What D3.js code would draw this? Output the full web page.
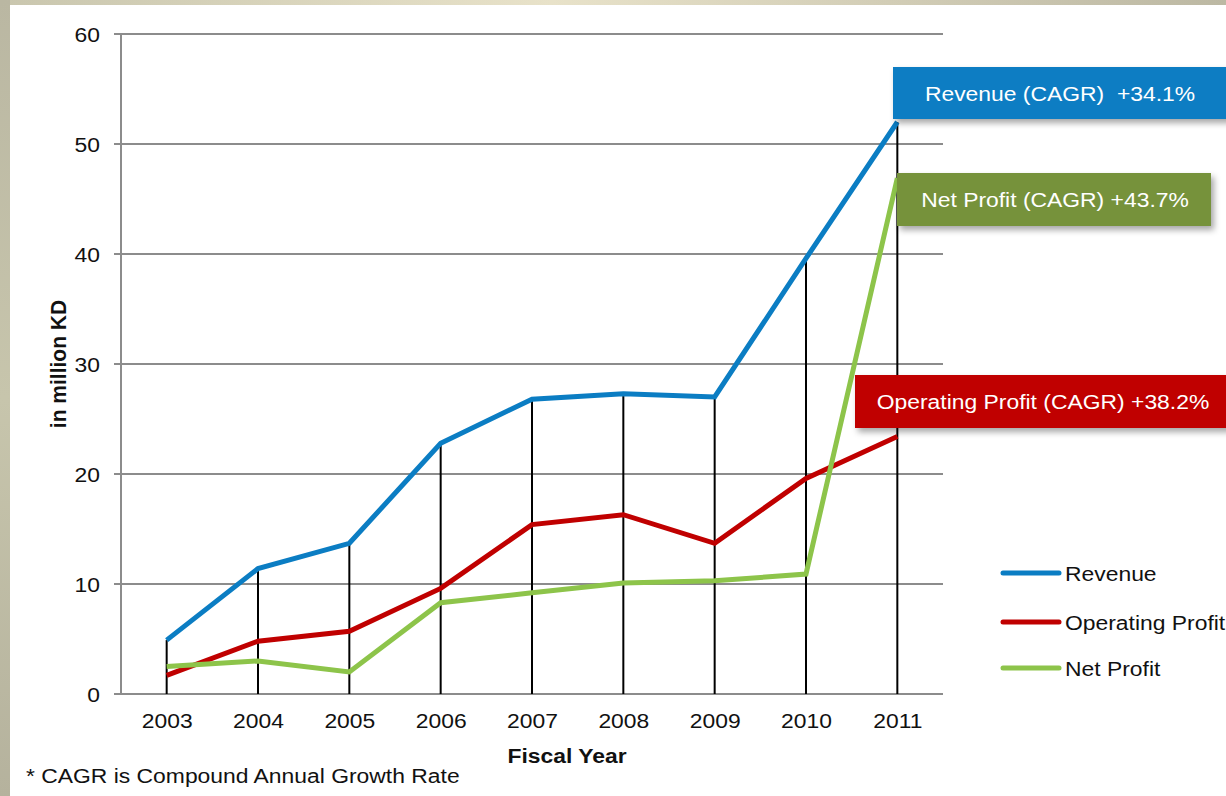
<!DOCTYPE html>
<html>
<head>
<meta charset="utf-8">
<script src="https://cdn.jsdelivr.net/npm/d3@7"></script>
<style>
  html, body { margin: 0; padding: 0; background: #fff; }
  svg { display: block; font-family: "Liberation Sans", Arial, sans-serif; }
</style>
</head>
<body>
<svg id="chart" width="1226" height="796"></svg>
<script>
// Fiscal years and series (million KD)
const years = ["2003", "2004", "2005", "2006", "2007", "2008", "2009", "2010", "2011"];
const revenue = [4.9, 11.4, 13.7, 22.8, 26.8, 27.3, 27.0, 39.6, 52.0];
const operatingProfit = [1.7, 4.8, 5.7, 9.6, 15.4, 16.3, 13.7, 19.6, 23.4];
const netProfit = [2.5, 3.0, 2.0, 8.3, 9.2, 10.1, 10.3, 10.9, 46.9];
const yTicks = [0, 10, 20, 30, 40, 50, 60];

const seriesNames = ["Revenue", "Operating Profit", "Net Profit"];
const seriesColors = ["#0B7DC3", "#C00000", "#8DC44A"];
const cagrLabels = ["Revenue (CAGR)  +34.1%", "Net Profit (CAGR) +43.7%", "Operating Profit (CAGR) +38.2%"];

// The slide's text is slightly widened horizontally
const FS = 21;
const SX = 1.09;

const svg = d3.select("#chart");
const defs = svg.append("defs");

// Page frame strips
const topGrad = defs.append("linearGradient").attr("id", "topStrip");
topGrad.append("stop").attr("offset", "0%").attr("stop-color", "#C9C6AE");
topGrad.append("stop").attr("offset", "45%").attr("stop-color", "#E8E2C9");
topGrad.append("stop").attr("offset", "100%").attr("stop-color", "#BCB8A3");
const leftGrad = defs.append("linearGradient").attr("id", "leftStrip")
  .attr("x1", 0).attr("y1", 0).attr("x2", 0).attr("y2", 1);
leftGrad.append("stop").attr("offset", "0%").attr("stop-color", "#BAB7A2");
leftGrad.append("stop").attr("offset", "50%").attr("stop-color", "#C7C5AC");
leftGrad.append("stop").attr("offset", "100%").attr("stop-color", "#B5B29D");

const shadow = defs.append("filter").attr("id", "boxShadow")
  .attr("x", "-10%").attr("y", "-20%").attr("width", "130%").attr("height", "160%");
shadow.append("feDropShadow").attr("dx", 3).attr("dy", 4).attr("stdDeviation", 3)
  .attr("flood-color", "#000").attr("flood-opacity", 0.35);

svg.append("rect").attr("x", 0).attr("y", 0).attr("width", 1226).attr("height", 5)
  .attr("fill", "url(#topStrip)");
svg.append("rect").attr("x", 0).attr("y", 0).attr("width", 10).attr("height", 796)
  .attr("fill", "url(#leftStrip)");

// Place a widened text at (x, y)
function wideText(parent, x, y, str) {
  return parent.append("text")
    .attr("transform", `translate(${x},${y}) scale(${SX},1)`)
    .attr("font-size", FS).attr("fill", "#111")
    .text(str);
}

// Scales
const x = d3.scalePoint().domain(years).range([121, 943]).padding(0.5);
const y = d3.scaleLinear().domain([0, 60]).range([694, 34]);

// Gridlines
svg.append("g").selectAll("line").data(yTicks).join("line")
  .attr("x1", 114).attr("x2", 943)
  .attr("y1", d => y(d)).attr("y2", d => y(d))
  .attr("stroke", "#8C8C8C").attr("stroke-width", 2);

// Y axis
const yAxis = d3.axisLeft(y).tickValues(yTicks).tickSize(0).tickPadding(0);
const gy = svg.append("g").attr("transform", "translate(121,0)").call(yAxis);
gy.select(".domain").remove();
gy.selectAll("text")
  .attr("x", -21 / SX).attr("dy", "0.36em")
  .attr("transform", `scale(${SX},1)`)
  .attr("font-size", FS).attr("fill", "#111").attr("font-family", "Liberation Sans, Arial, sans-serif");
svg.append("line").attr("x1", 121).attr("x2", 121).attr("y1", y(60)).attr("y2", y(0) + 1)
  .attr("stroke", "#8C8C8C").attr("stroke-width", 2);

// X axis labels
const xAxis = d3.axisBottom(x).tickSize(0).tickPadding(0);
const gx = svg.append("g").attr("transform", `translate(0,${y(0)})`).call(xAxis);
gx.select(".domain").remove();
gx.selectAll("text").attr("y", 34).attr("dy", 0)
  .attr("transform", `scale(${SX},1)`)
  .attr("font-size", FS).attr("fill", "#111").attr("font-family", "Liberation Sans, Arial, sans-serif");

// Drop lines from revenue down to zero
svg.append("g").selectAll("line").data(years).join("line")
  .attr("x1", d => x(d)).attr("x2", d => x(d))
  .attr("y1", (d, i) => y(revenue[i])).attr("y2", y(0))
  .attr("stroke", "#000").attr("stroke-width", 2);

// Series lines
const allSeries = [revenue, operatingProfit, netProfit];
const line = d3.line().x((d, i) => x(years[i])).y(d => y(d));
svg.append("g").selectAll("path").data(allSeries).join("path")
  .attr("d", d => line(d))
  .attr("fill", "none")
  .attr("stroke", (d, i) => seriesColors[i])
  .attr("stroke-width", 5)
  .attr("stroke-linejoin", "miter");

// CAGR call-out boxes
const boxes = [
  { x: 893, y: 67, w: 340, h: 52, fill: "#0B7DC3", text: cagrLabels[0], tx: 1060 },
  { x: 897, y: 173, w: 314, h: 53, fill: "#76923A", text: cagrLabels[1], tx: 1055 },
  { x: 855, y: 375, w: 378, h: 53, fill: "#C00000", text: cagrLabels[2], tx: 1043 }
];
const gb = svg.append("g");
boxes.forEach(b => {
  gb.append("rect")
    .attr("x", b.x).attr("y", b.y).attr("width", b.w).attr("height", b.h)
    .attr("fill", b.fill).attr("filter", "url(#boxShadow)");
  wideText(gb, b.tx, b.y + b.h / 2, b.text)
    .attr("dy", "0.36em").attr("text-anchor", "middle")
    .attr("fill", "#fff").style("white-space", "pre");
});

// Legend
const legendY = [573, 622, 668];
const gl = svg.append("g");
seriesNames.forEach((name, i) => {
  gl.append("line")
    .attr("x1", 1003).attr("x2", 1059)
    .attr("y1", legendY[i]).attr("y2", legendY[i])
    .attr("stroke", seriesColors[i]).attr("stroke-width", 5)
    .attr("stroke-linecap", "round");
  wideText(gl, 1065, legendY[i], name).attr("dy", "0.36em");
});

// Axis titles and footnote
svg.append("text")
  .attr("transform", `translate(66,364) rotate(-90) scale(1,${SX})`)
  .attr("text-anchor", "middle").attr("font-size", FS).attr("font-weight", "bold")
  .attr("fill", "#111").text("in million KD");
wideText(svg, 567, 763, "Fiscal Year")
  .attr("text-anchor", "middle").attr("font-weight", "bold");
wideText(svg, 26, 783, "* CAGR is Compound Annual Growth Rate");
</script>
</body>
</html>
